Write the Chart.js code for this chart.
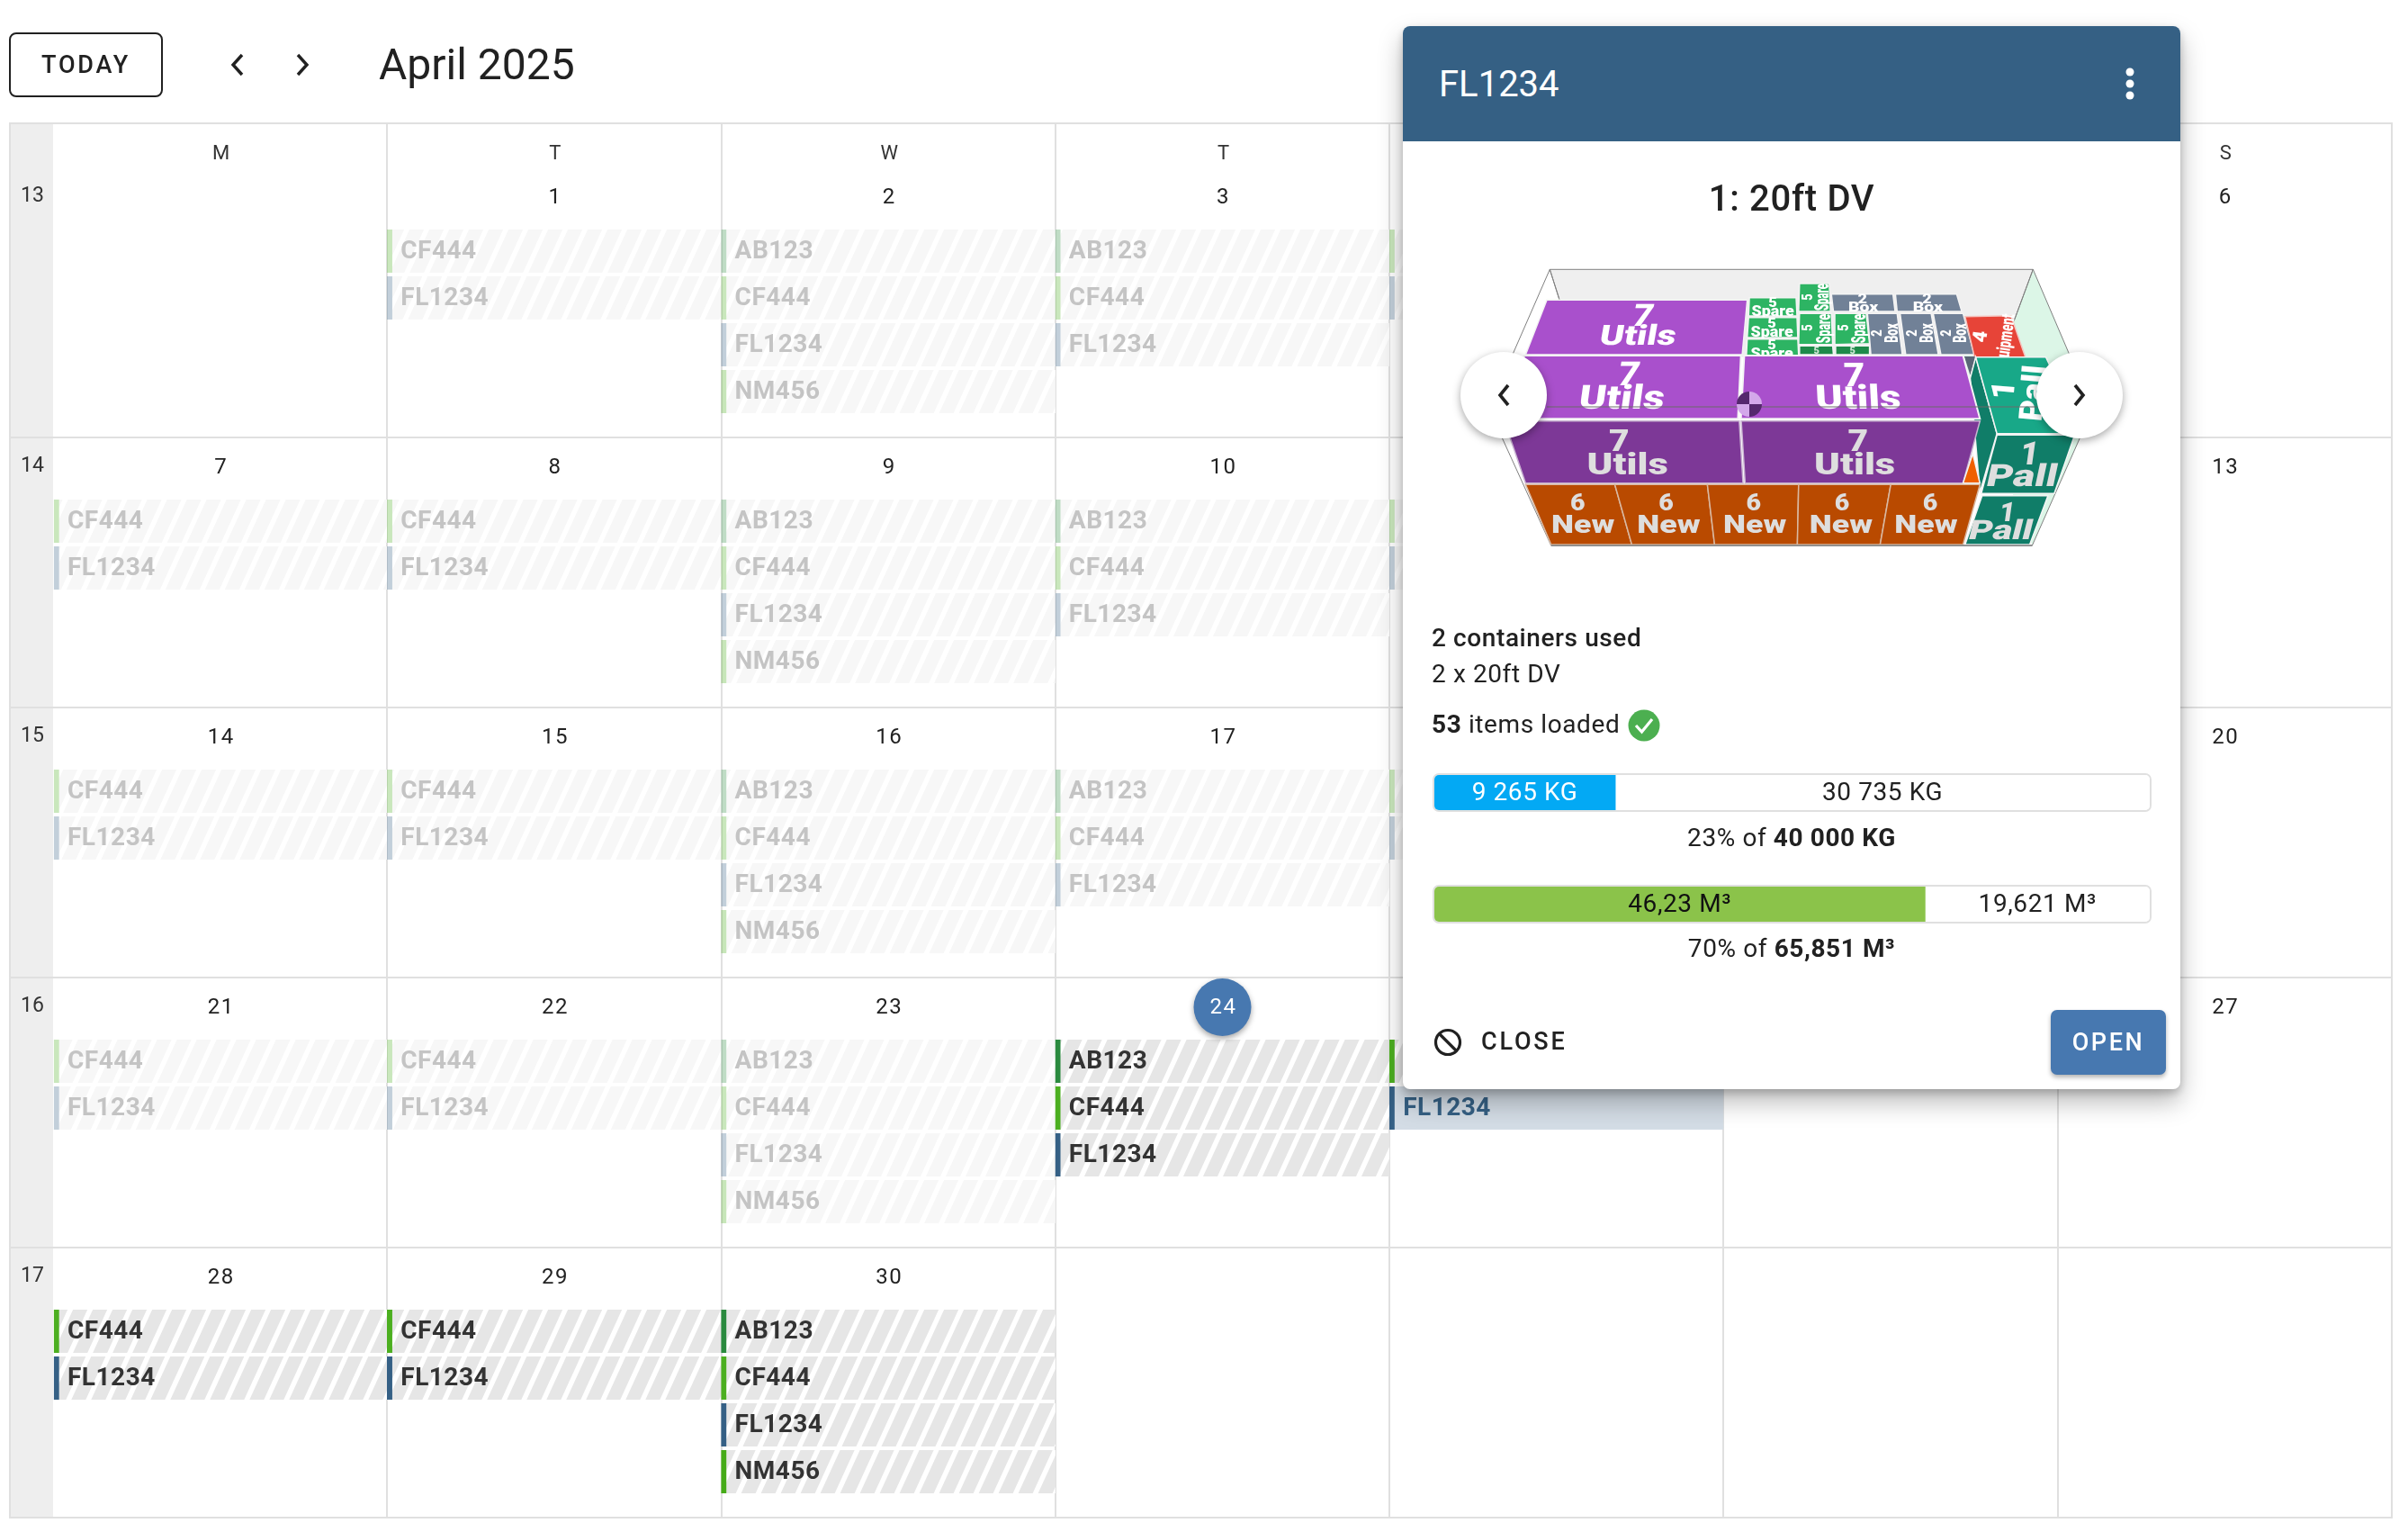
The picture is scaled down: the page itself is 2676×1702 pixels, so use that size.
<!DOCTYPE html>
<html>
<head>
<meta charset="utf-8">
<title>April 2025</title>
<script src="https://cdn.jsdelivr.net/npm/chart.js@4"></script>
<style>
  html, body { margin: 0; padding: 0; background: #fff; }
  body { position: relative; width: 2676px; height: 1702px; overflow: hidden; font-family: Roboto, sans-serif; color: #212121; }
  .abs { position: absolute; white-space: nowrap; }
  .center { transform: translate(-50%, -50%); }
  .midline { transform: translateY(-50%); }
  .body28 { font: 400 28px Roboto; letter-spacing: .6px; }
  #calendar { position: absolute; left: 0; top: 0; }
  #todayBtn { left: 10px; top: 36px; width: 167px; height: 68px; border: 2px solid #212121; border-radius: 8px; font: 500 27px Roboto; letter-spacing: 2.8px; line-height: 68px; text-align: center; }
  #monthTitle { left: 421px; top: 71px; font: 400 48px Roboto; }
  #popup { left: 1559px; top: 29px; width: 864px; height: 1181px; background: #fff; border-radius: 8px; box-shadow: 0 14px 28px rgba(0,0,0,.28), 0 4px 10px rgba(0,0,0,.2); }
  #popupHead { left: 1559px; top: 29px; width: 864px; height: 128px; background: #356084; border-radius: 8px 8px 0 0; }
  .capacity { position: absolute; left: 1592px; width: 795px; height: 39px; border: 2px solid #e0e0e0; border-radius: 7px; overflow: hidden; background: #fff; }
  .round { position: absolute; width: 96px; height: 96px; border-radius: 50%; background: #fff; box-shadow: 0 3px 10px rgba(0,0,0,.35); }
  #openBtn { left: 2279px; top: 1122px; width: 128px; height: 72px; border-radius: 7px; background: #4778b0; color: #fff; font: 500 27px Roboto; letter-spacing: 2.6px; line-height: 72px; text-align: center; box-shadow: 0 3px 5px rgba(0,0,0,.3); }
</style>
</head>
<body>
<canvas id="calendar" width="2676" height="1702"></canvas>

<div class="abs" id="todayBtn">TODAY</div>
<svg class="abs" style="left:250px;top:56px" width="100" height="32" fill="none" stroke="#212121" stroke-width="3.4">
  <path d="M19 5 L9 16 L19 27"/><path d="M81 5 L91 16 L81 27"/>
</svg>
<div class="abs midline" id="monthTitle">April 2025</div>

<div class="abs" id="popup"></div>
<div class="abs" id="popupHead"></div>
<div class="abs midline" style="left:1599px;top:93px;font:400 40px Roboto;color:#fff">FL1234</div>
<svg class="abs" style="left:2357px;top:72px" width="20" height="42" fill="#fff">
  <circle cx="10" cy="8" r="4.5"/><circle cx="10" cy="21" r="4.5"/><circle cx="10" cy="34" r="4.5"/>
</svg>
<div class="abs center" style="left:1991px;top:220px;font:500 40px Roboto;letter-spacing:.7px">1: 20ft DV</div>

<svg class="abs" id="container3d" style="left:1660px;top:280px" width="740" height="340"></svg>
<div class="round" style="left:1623px;top:391px"></div>
<div class="round" style="left:2263px;top:391px"></div>
<svg class="abs" style="left:1660px;top:424px" width="670" height="30" fill="none" stroke="#212121" stroke-width="3.6">
  <path d="M16 4 L7 15 L16 26"/><path d="M646 4 L655 15 L646 26"/>
</svg>

<div class="abs midline body28" style="left:1591px;top:708px;font-weight:500">2 containers used</div>
<div class="abs midline body28" style="left:1591px;top:748px">2 x 20ft DV</div>
<div class="abs midline body28" style="left:1591px;top:804px"><b style="font-weight:700">53</b> items loaded</div>
<svg class="abs" style="left:1809px;top:788px" width="36" height="36">
  <circle cx="18" cy="18" r="17.5" fill="#4caf50"/><path d="M9 18 L15.5 25 L27 11" fill="none" stroke="#fff" stroke-width="3.2"/>
</svg>

<div class="capacity" style="top:859px"><canvas id="weightBar" width="795" height="39"></canvas></div>
<div class="abs center body28" style="left:1991px;top:930px">23% of <b style="font-weight:700">40 000 KG</b></div>
<div class="capacity" style="top:983px"><canvas id="volumeBar" width="795" height="39"></canvas></div>
<div class="abs center body28" style="left:1991px;top:1053px">70% of <b style="font-weight:700">65,851 M³</b></div>

<svg class="abs" style="left:1593px;top:1142px" width="32" height="32" fill="none" stroke="#212121" stroke-width="3.2">
  <circle cx="16" cy="16" r="13.5"/><path d="M6.5 6.5 L25.5 25.5"/>
</svg>
<div class="abs midline" style="left:1646px;top:1157px;font:500 27px Roboto;letter-spacing:2.8px">CLOSE</div>
<div class="abs" id="openBtn">OPEN</div>

<script>
// calendar content
const weekNumbers = [13, 14, 15, 16, 17];
const weekdayLetters = ["M", "T", "W", "T", "F", "S", "S"];
const monthDays = [
  [null, 1, 2, 3, 4, 5, 6],
  [7, 8, 9, 10, 11, 12, 13],
  [14, 15, 16, 17, 18, 19, 20],
  [21, 22, 23, 24, 25, 26, 27],
  [28, 29, 30, null, null, null, null]
];
const mondayCargo = ["CF444", "FL1234"];
const tuesdayCargo = ["CF444", "FL1234"];
const wednesdayCargo = ["AB123", "CF444", "FL1234", "NM456"];
const thursdayCargo = ["AB123", "CF444", "FL1234"];
const fridayCargo = ["CF444", "FL1234"];
const todayNumber = 24;
const hoveredDay = 25;
const hoveredCargo = "FL1234";

// capacity bars in the popup, widths (percent of the track)
const weightSegments = [25.3, 74.7];
const weightLabels = ["9 265 KG", "30 735 KG"];
const volumeSegments = [68.6, 31.4];
const volumeLabels = ["46,23 M³", "19,621 M³"];

// layout of the month grid, px
const ROW_H = 300, HEADER_H = 49, FIRST_BAR = 69, SLOT = 52, BAR_H = 48;
const cargoColors = { AB123: [42, 138, 63], CF444: [76, 175, 32], FL1234: [53, 96, 133], NM456: [70, 171, 24] };

function weekTop(w) { return w === 0 ? 0 : ROW_H + HEADER_H + (w - 1) * ROW_H; }
function weekContentTop(w) { return weekTop(w) + (w === 0 ? HEADER_H : 0); }

function stripePattern(ctx, color) {
  var tile = document.createElement("canvas");
  tile.width = 22; tile.height = 48;
  var t = tile.getContext("2d");
  t.fillStyle = "#fff";
  t.fillRect(0, 0, 22, 48);
  t.fillStyle = color;
  for (var k = -2; k < 3; k++) {
    var o = k * 22;
    t.beginPath();
    t.moveTo(o, 48); t.lineTo(o + 16, 48); t.lineTo(o + 38, 0); t.lineTo(o + 22, 0);
    t.closePath(); t.fill();
  }
  return ctx.createPattern(tile, "repeat");
}

var cal = document.getElementById("calendar");
var calCtx = cal.getContext("2d");
var darkStripes = stripePattern(calCtx, "#e6e6e6");
var fadedStripes = stripePattern(calCtx, "#f7f7f7");

var cargoPerWeekday = [mondayCargo, tuesdayCargo, wednesdayCargo, thursdayCargo, fridayCargo];
var barData = [];
monthDays.forEach(function (week, w) {
  week.forEach(function (day, col) {
    if (day === null || col >= cargoPerWeekday.length) return;
    cargoPerWeekday[col].forEach(function (name, slot) {
      barData.push({
        x: [col, col + 1],
        y: weekContentTop(w) + FIRST_BAR + slot * SLOT + BAR_H / 2,
        name: name,
        day: day
      });
    });
  });
});

function stripColor(d) {
  var c = cargoColors[d.name];
  var a = d.day < todayNumber ? 0.3 : 1;
  return "rgba(" + c[0] + "," + c[1] + "," + c[2] + "," + a + ")";
}
function isHovered(d) { return d.day === hoveredDay && d.name === hoveredCargo; }

var calendarFrame = {
  id: "calendarFrame",
  beforeDraw: function (chart) {
    var a = chart.chartArea, c = chart.ctx;
    c.save();
    c.fillStyle = "#eeeeee";
    c.fillRect(11, a.top, a.left - 11, a.bottom - a.top);
    c.restore();
  },
  afterDraw: function (chart) {
    var a = chart.chartArea, c = chart.ctx, ys = chart.scales.y, xs = chart.scales.x;
    c.save();
    c.strokeStyle = "#e0e0e0";
    c.lineWidth = 2;
    c.strokeRect(11, a.top, a.right - 11, a.bottom - a.top);
    weekNumbers.forEach(function (n, w) {
      if (w === 0) return;
      c.beginPath(); c.moveTo(11, ys.getPixelForValue(weekTop(w))); c.lineTo(a.left, ys.getPixelForValue(weekTop(w))); c.stroke();
    });
    c.textAlign = "center";
    c.textBaseline = "middle";
    c.fillStyle = "#333";
    c.font = "400 22px Roboto";
    weekdayLetters.forEach(function (l, i) {
      c.fillText(l, xs.getPixelForValue(i + 0.5) + 1, a.top + 34);
    });
    // week numbers and day numbers
    weekNumbers.forEach(function (n, w) {
      var top = ys.getPixelForValue(weekContentTop(w));
      c.fillStyle = "#333";
      c.font = "400 23px Roboto";
      c.fillText(String(n), 36, top + 32);
      monthDays[w].forEach(function (day, col) {
        if (day === null) return;
        var px = xs.getPixelForValue(col + 0.5) + 1;
        if (day === todayNumber) {
          c.save();
          c.shadowColor = "rgba(0,0,0,.35)"; c.shadowBlur = 6; c.shadowOffsetY = 3;
          c.fillStyle = "#4778b0";
          c.beginPath(); c.arc(px - 1, top + 33, 32, 0, Math.PI * 2); c.fill();
          c.restore();
          c.fillStyle = "#fff";
        } else {
          c.fillStyle = "#222";
        }
        c.font = "400 24px Roboto";
        c.letterSpacing = "1.5px";
        c.fillText(String(day), px, top + 34);
        c.letterSpacing = "0px";
      });
    });
    // cargo names on the bars
    c.textAlign = "left";
    c.font = "700 28px Roboto";
    c.letterSpacing = "0.5px";
    chart.getDatasetMeta(0).data.forEach(function (el, i) {
      var d = barData[i];
      c.fillStyle = isHovered(d) ? "#356084" : (d.day < todayNumber ? "#c4c4c4" : "#333333");
      c.fillText(d.name, el.base + 15, el.y + 1);
    });
    c.letterSpacing = "0px";
    c.restore();
  }
};

new Chart(cal, {
  type: "bar",
  data: {
    datasets: [{
      data: barData,
      barThickness: BAR_H,
      borderSkipped: false,
      borderWidth: { left: 6, right: 0, top: 0, bottom: 0 },
      borderColor: function (ctx) { return ctx.raw ? stripColor(ctx.raw) : "#000"; },
      backgroundColor: function (ctx) {
        if (!ctx.raw) return "#eee";
        if (isHovered(ctx.raw)) return "#d3dce5";
        return ctx.raw.day < todayNumber ? fadedStripes : darkStripes;
      }
    }]
  },
  options: {
    indexAxis: "y",
    responsive: false,
    devicePixelRatio: 1,
    animation: false,
    events: [],
    layout: { padding: { left: 59, right: 18, top: 137, bottom: 16 } },
    plugins: { legend: { display: false }, tooltip: { enabled: false } },
    scales: {
      x: {
        type: "linear", min: 0, max: 7,
        ticks: { display: false, stepSize: 1 },
        border: { display: false },
        grid: {
          drawTicks: false, lineWidth: 2,
          color: function (ctx) { return ctx.tick && ctx.tick.value === 0 ? "rgba(0,0,0,0)" : "#e0e0e0"; }
        }
      },
      y: {
        type: "linear", reverse: true, offset: false, min: 0, max: HEADER_H + 5 * ROW_H,
        afterBuildTicks: function (axis) {
          axis.ticks = weekNumbers.map(function (n, w) { return { value: weekTop(w) }; });
          axis.ticks.push({ value: HEADER_H + 5 * ROW_H });
        },
        ticks: { display: false },
        border: { display: false },
        grid: { offset: false, drawTicks: false, lineWidth: 2, color: "#e0e0e0" }
      }
    }
  },
  plugins: [calendarFrame]
});

// stacked bars for the used and free capacity
function capacityBar(id, segments, labels, fill, textColors) {
  var segmentLabels = {
    id: "segmentLabels",
    afterDatasetsDraw: function (chart) {
      var c = chart.ctx;
      c.save();
      c.font = "400 28px Roboto";
      c.letterSpacing = "0.6px";
      c.textAlign = "center";
      c.textBaseline = "middle";
      labels.forEach(function (label, i) {
        var el = chart.getDatasetMeta(i).data[0];
        c.fillStyle = textColors[i];
        c.fillText(label, (el.base + el.x) / 2, el.y + 1);
      });
      c.restore();
    }
  };
  new Chart(document.getElementById(id), {
    type: "bar",
    data: {
      labels: [""],
      datasets: segments.map(function (v, i) {
        return { data: [v], backgroundColor: i === 0 ? fill : "#ffffff", barPercentage: 1, categoryPercentage: 1 };
      })
    },
    options: {
      indexAxis: "y", responsive: false, devicePixelRatio: 1, animation: false, events: [],
      layout: { padding: 0 },
      plugins: { legend: { display: false }, tooltip: { enabled: false } },
      scales: {
        x: { stacked: true, display: false, min: 0, max: 100 },
        y: { stacked: true, display: false }
      }
    },
    plugins: [segmentLabels]
  });
}
capacityBar("weightBar", weightSegments, weightLabels, "#03a9f4", ["#ffffff", "#212121"]);
capacityBar("volumeBar", volumeSegments, volumeLabels, "#8bc34a", ["#111111", "#212121"]);

// the loaded container picture, in the crop coordinates it was traced from
var svg = document.getElementById("container3d");
var NS = "http://www.w3.org/2000/svg";
function sx(v) { return v / 2.119; }
function sy(v) { return v / 3; }
function poly(points, fill, stroke, width) {
  var p = document.createElementNS(NS, "polygon");
  var s = "";
  for (var i = 0; i < points.length; i += 2) s += sx(points[i]).toFixed(1) + "," + sy(points[i + 1]).toFixed(1) + " ";
  p.setAttribute("points", s);
  p.setAttribute("fill", fill);
  if (stroke) { p.setAttribute("stroke", stroke); p.setAttribute("stroke-width", width || 1.5); }
  svg.appendChild(p);
}
function label(text, zx, zy, size, stretch, rot, skew, color) {
  var t = document.createElementNS(NS, "text");
  t.textContent = text;
  t.setAttribute("text-anchor", "middle");
  t.setAttribute("dominant-baseline", "central");
  t.setAttribute("font-family", "Roboto");
  t.setAttribute("font-weight", "900");
  t.setAttribute("font-size", size);
  t.setAttribute("fill", color || "#fff");
  t.setAttribute("transform", "translate(" + sx(zx).toFixed(1) + " " + sy(zy).toFixed(1) + ") rotate(" + (rot || 0) + ") skewX(" + (skew || 0) + ") scale(" + stretch + " 1)");
  svg.appendChild(t);
}
var W = "#f4f4f4", FADE = "#dedede";

poly([132,58, 1270,58, 1225,240, 1110,350, 150,350, 155,160], "#efefef");
poly([1270,58, 1355,340, 1380,620, 1268,978, 1100,350, 1225,230], "#dcf6e7");
poly([132,58, 1270,58, 1355,340, 1380,620, 1268,978, 135,978, 20,620, 45,340], "none", "#808080", 1);
poly([132,58, 155,160], "none", "#808080", 1);
poly([1270,58, 1225,230], "none", "#808080", 1);

poly([125,160, 597,160, 585,342, 75,342], "#a950cc", W);
label("7", 352, 213, 34, 1.15, 0, -12);
label("Utils", 340, 278, 31, 1.32, 0, -10);

// spare boxes
poly([602,152, 712,152, 714,213, 600,213], "#2db463", W);
label("5", 657, 168, 15, 1.1); label("Spare", 657, 195, 16, 1.12);
poly([600,218, 714,218, 716,285, 597,285], "#2db463", W);
label("5", 655, 235, 15, 1.1); label("Spare", 655, 265, 16, 1.12);
poly([597,290, 716,290, 718,345, 595,345], "#2db463", W);
label("5", 655, 308, 15, 1.1); label("Spare", 655, 337, 16, 1.12);
poly([720,105, 790,105, 793,198, 718,198], "#2db463", W);
label("5", 738, 150, 17, 0.75, -90); label("Spare", 773, 150, 22, 0.52, -90);
poly([720,205, 795,205, 798,308, 718,308], "#2db463", W);
label("5", 738, 252, 17, 0.75, -90); label("Spare", 775, 255, 22, 0.56, -90);
poly([803,205, 877,205, 885,305, 803,308], "#2db463", W);
label("5", 822, 252, 17, 0.75, -90); label("Spare", 858, 255, 22, 0.56, -90);
poly([720,313, 798,313, 800,342, 720,342], "#1e8a4a", W);
label("5", 760, 328, 11, 1, 0, 0, "#cfe6d6");
poly([805,313, 885,313, 885,342, 805,342], "#1e8a4a", W);
label("5", 845, 328, 11, 1, 0, 0, "#cfe6d6");

// grey boxes
poly([795,140, 940,140, 945,198, 800,198], "#718197", W);
label("2", 868, 155, 15, 1.2); label("Box", 870, 183, 15, 1.3);
poly([946,140, 1090,140, 1102,198, 950,198], "#718197", W);
label("2", 1020, 155, 15, 1.2); label("Box", 1022, 183, 15, 1.3);
poly([880,205, 950,205, 962,342, 888,342], "#718197", W);
label("2", 902, 270, 17, 0.75, -90); label("Box", 936, 270, 21, 0.6, -90);
poly([957,205, 1030,205, 1047,342, 970,342], "#718197", W);
label("2", 985, 270, 17, 0.75, -90); label("Box", 1018, 270, 21, 0.6, -90);
poly([1035,205, 1105,205, 1132,342, 1053,342], "#718197", W);
label("2", 1065, 270, 17, 0.75, -90); label("Box", 1097, 270, 21, 0.6, -90);

// equipment
poly([1110,215, 1218,212, 1252,350, 1132,350], "#e74438", "#f5c5c0");
label("4", 1145, 282, 22, 1, -82);
label("Equipment", 1203, 300, 21, 0.62, -82);

// teal pallets
poly([1108,348, 1135,348, 1122,410], "#5a6676");
poly([1135,350, 1122,420, 1145,800, 1185,605], "#107d68", W);
poly([1135,350, 1300,350, 1385,605, 1185,605], "#18a888", W);
label("1", 1200, 460, 36, 1, -85);
label("Pall", 1270, 470, 36, 1, -85);
poly([1185,610, 1368,610, 1320,805, 1148,805], "#107d68", W);
label("1", 1262, 672, 36, 1, 0, -8, FADE); label("Pall", 1245, 745, 34, 1.34, 0, -12, FADE);
poly([1150,812, 1305,812, 1262,975, 1110,975], "#107d68", W);
label("1", 1210, 865, 30, 1, 0, -8, FADE); label("Pall", 1195, 925, 30, 1.36, 0, -14, FADE);

// utils, top then front
poly([72,345, 582,345, 575,556, 25,556], "#a950cc", W, 2);
label("7", 318, 408, 37, 1.1, 0, -10); label("Utils", 302, 482, 37, 1.24, 0, -8);
poly([590,345, 1105,345, 1145,556, 582,556], "#a950cc", W, 2);
label("7", 848, 408, 37, 1.1, 0, 0); label("Utils", 858, 482, 37, 1.24, 0, 3);
poly([25,563, 578,563, 587,770, 75,770], "#7d3897", "#c9b3d2");
label("7", 295, 628, 34, 1.15, 0, 0, FADE); label("Utils", 315, 705, 33, 1.32, 0, 0, FADE);
poly([583,563, 1145,563, 1105,770, 592,770], "#7d3897", "#c9b3d2");
label("7", 858, 628, 34, 1.15, 0, 0, FADE); label("Utils", 850, 705, 33, 1.32, 0, 0, FADE);
poly([1128,672, 1145,770, 1105,770], "#f06000", W);

// new boxes along the front
var topEdge = [75, 285, 503, 718, 935, 1145];
var bottomEdge = [135, 325, 520, 715, 910, 1105];
var sixX = [198, 406, 612, 820, 1028];
var newX = [210, 412, 615, 818, 1018];
for (var b = 0; b < 5; b++) {
  poly([topEdge[b],775, topEdge[b+1],775, bottomEdge[b+1],975, bottomEdge[b],975], "#b94a00", "#d9b9a2");
  label("6", sixX[b], 836, 26, 1.1, 0, 0, FADE);
  label("New", newX[b], 908, 27, 1.32, 0, 0, FADE);
}
poly([135,978, 1268,978], "none", "#808080", 1);

// centre of gravity mark
var cgLine = document.createElementNS(NS, "line");
cgLine.setAttribute("x1", 59); cgLine.setAttribute("x2", 604);
cgLine.setAttribute("y1", 172); cgLine.setAttribute("y2", 172);
cgLine.setAttribute("stroke", "#6a6a6a"); cgLine.setAttribute("stroke-width", 1);
svg.appendChild(cgLine);
[["M284 169 L284 155 A14 14 0 0 0 270 169 Z", "#55286e"], ["M284 169 L284 155 A14 14 0 0 1 298 169 Z", "#d3a8ea"],
 ["M284 169 L270 169 A14 14 0 0 0 284 183 Z", "#d3a8ea"], ["M284 169 L298 169 A14 14 0 0 1 284 183 Z", "#55286e"]].forEach(function (q) {
  var p = document.createElementNS(NS, "path");
  p.setAttribute("d", q[0]); p.setAttribute("fill", q[1]);
  svg.appendChild(p);
});
</script>
</body>
</html>
